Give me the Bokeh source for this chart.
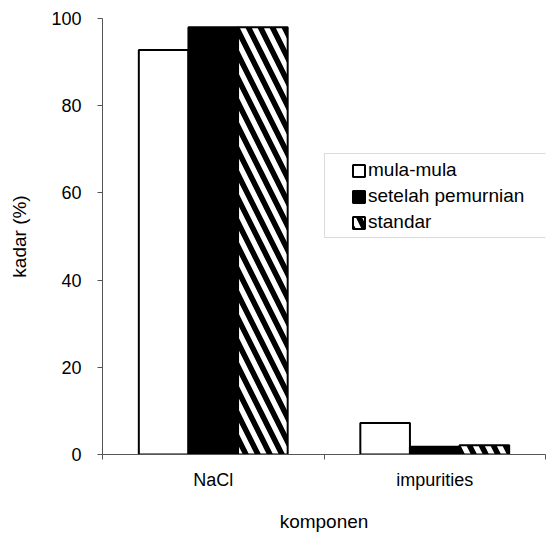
from bokeh.plotting import figure
from bokeh.models import (ColumnDataSource, Range1d, FixedTicker, Legend, LegendItem,
                          BoxAnnotation)
from bokeh.embed import file_html
from bokeh.resources import INLINE

categories = ["NaCl", "impurities"]
series_names = ["mula-mula", "setelah pemurnian", "standar"]
mula_mula = [92.8, 7.2]
setelah_pemurnian = [98.0, 1.8]
standar = [98.0, 2.1]
y_ticks = [0, 20, 40, 60, 80, 100]

FONT = "Liberation Sans"

p = figure(width=552, height=538, output_backend="svg", toolbar_location=None,
           x_range=Range1d(0, len(categories)), y_range=Range1d(0, 100),
           min_border_left=102, min_border_right=7, min_border_top=18, min_border_bottom=84)
p.outline_line_color = None
p.xgrid.visible = False
p.ygrid.visible = False

centers = [i + 0.5 for i in range(len(categories))]
bw = 0.224
series = [mula_mula, setelah_pemurnian, standar]
styles = [
    dict(fill_color="white"),
    dict(fill_color="black"),
    dict(fill_color="white", hatch_pattern="\\", hatch_color="black", hatch_scale=24, hatch_weight=5.5),
]
renderers = []
for j, (vals, st) in enumerate(zip(series, styles)):
    xs = [c + (j - 1) * bw for c in centers]
    src = ColumnDataSource(dict(x=xs, top=vals))
    r = p.vbar(x="x", top="top", width=bw, bottom=0, source=src,
               line_color="black", line_width=2, **st)
    renderers.append(r)

# axes
ax = p.xaxis[0]
ax.ticker = FixedTicker(ticks=centers, minor_ticks=list(range(len(categories) + 1)))
ax.major_label_overrides = {c: n for c, n in zip(centers, categories)}
ax.major_tick_out = 0
ax.major_tick_in = 0
ax.minor_tick_out = 5
ax.minor_tick_in = 0
ax.axis_label = "komponen"
ax.major_label_standoff = 10
ax.axis_label_standoff = 18

ay = p.yaxis[0]
ay.ticker = FixedTicker(ticks=y_ticks, minor_ticks=[])
ay.major_tick_out = 5
ay.major_tick_in = 0
ay.minor_tick_out = 0
ay.minor_tick_in = 0
ay.axis_label = "kadar (%)"
ay.major_label_standoff = 16
ay.axis_label_standoff = 18

for a in (ax, ay):
    a.axis_line_color = "#555555"
    a.major_tick_line_color = "#555555"
    a.minor_tick_line_color = "#555555"
    a.major_label_text_font = FONT
    a.major_label_text_font_size = "18px"
    a.major_label_text_color = "black"
    a.axis_label_text_font = FONT
    a.axis_label_text_font_size = "19px"
    a.axis_label_text_font_style = "normal"
    a.axis_label_text_color = "black"

# legend box frame
box = BoxAnnotation(left=324, right=550, top=153, bottom=237,
                    left_units="canvas", right_units="canvas",
                    top_units="canvas", bottom_units="canvas",
                    fill_alpha=0, line_color="#888888", line_width=1, level="overlay")
p.add_layout(box)

legend = Legend(items=[LegendItem(label=n, renderers=[r]) for n, r in zip(series_names, renderers)],
                location=(249, 221), padding=0, margin=0, spacing=4,
                glyph_width=15, glyph_height=15, label_standoff=2,
                label_text_font=FONT, label_text_font_size="19px", label_text_color="black",
                border_line_alpha=0, background_fill_alpha=0)
p.add_layout(legend)

open("out.html", "w").write(file_html(p, INLINE))
